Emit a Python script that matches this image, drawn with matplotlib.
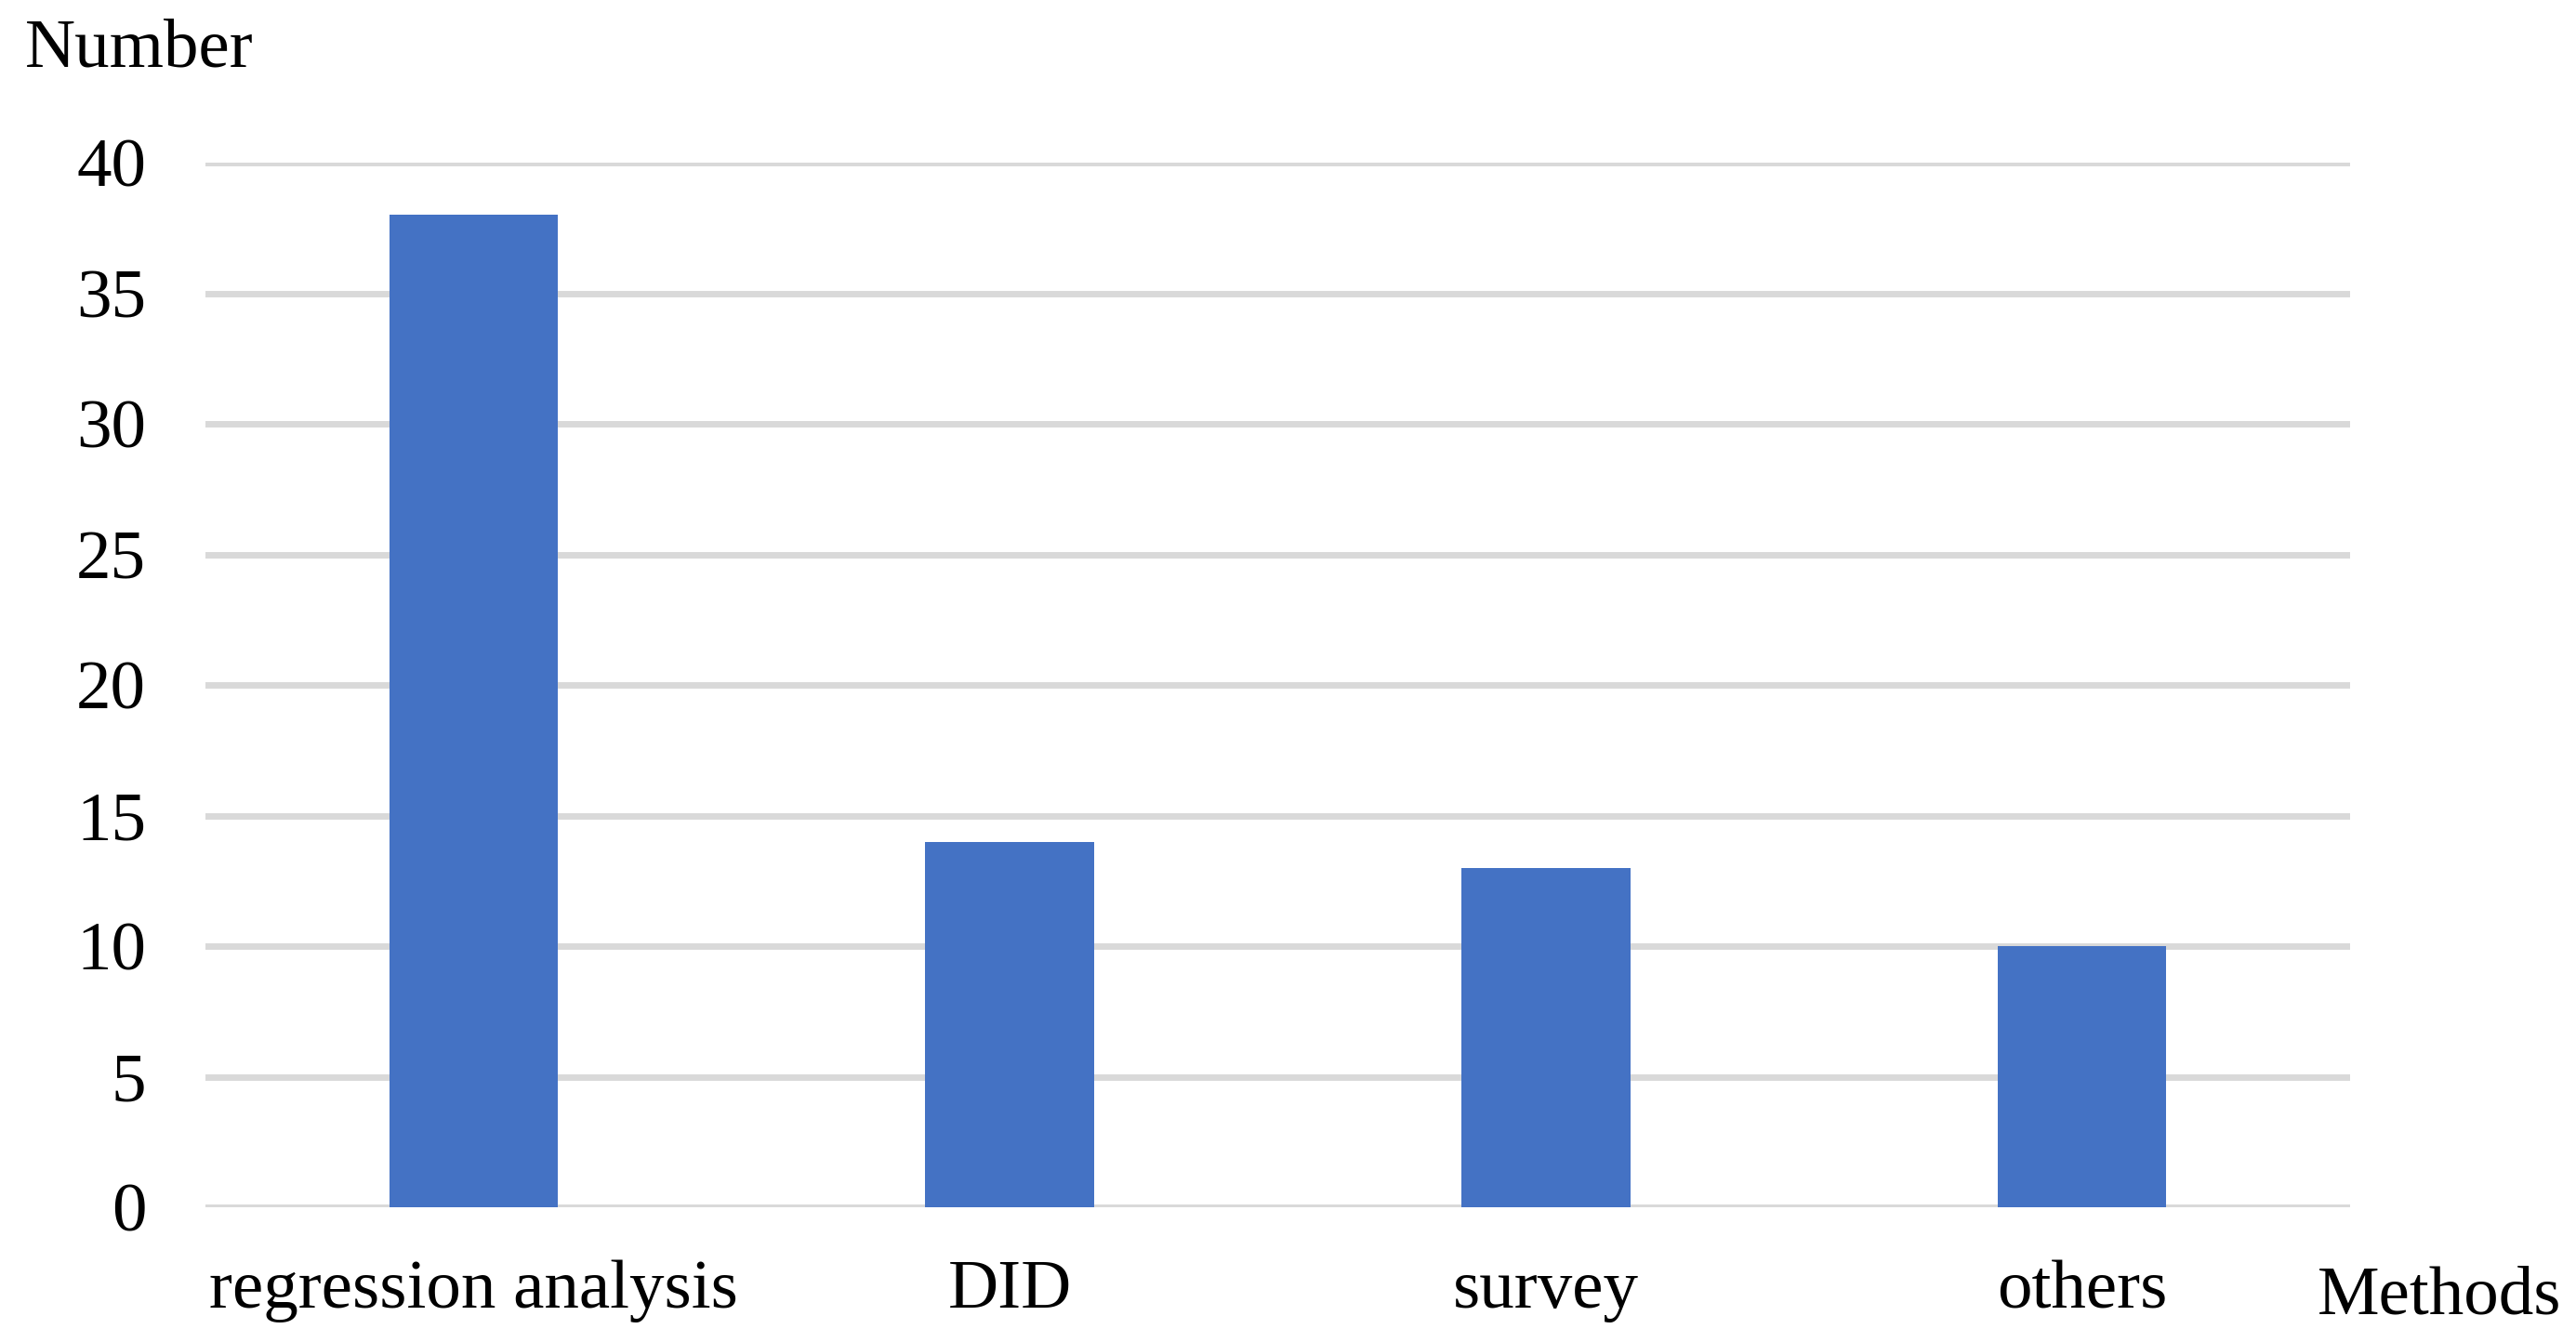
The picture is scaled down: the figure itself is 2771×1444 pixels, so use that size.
import matplotlib
matplotlib.use('Agg')
from matplotlib import pyplot as plt

methods = ['regression analysis', 'DID', 'survey', 'others']
counts = [38, 14, 13, 10]
y_ticks = [0, 5, 10, 15, 20, 25, 30, 35, 40]

plt.rcParams['font.family'] = ['Liberation Serif', 'DejaVu Serif']

fig = plt.figure(figsize=(27.71, 14.44), dpi=100)
ax = fig.add_axes([0.0798, 0.1004, 0.8324, 0.7784])

x = list(range(len(methods)))
ax.bar(x, counts, width=0.315, color='#4472C4', zorder=3)

ax.set_xlim(-0.5, len(methods) - 0.5)
ax.set_ylim(0, 40)
ax.set_yticks(y_ticks)
ax.set_xticks(x)
ax.set_xticklabels(methods)
ax.yaxis.grid(True, color='#D9D9D9', linewidth=5, zorder=0)
ax.set_axisbelow(True)

for s in ax.spines.values():
    s.set_visible(False)
ax.tick_params(axis='both', length=0, labelsize=54)
ax.tick_params(axis='y', pad=46)
ax.tick_params(axis='x', pad=41)

fig.text(27 / 2771, 1 - 72 / 1444, 'Number', fontsize=54, ha='left', va='baseline')
fig.text(2493 / 2771, 1 - 1413 / 1444, 'Methods', fontsize=54, ha='left', va='baseline')

fig.savefig('out.png', dpi=100)
